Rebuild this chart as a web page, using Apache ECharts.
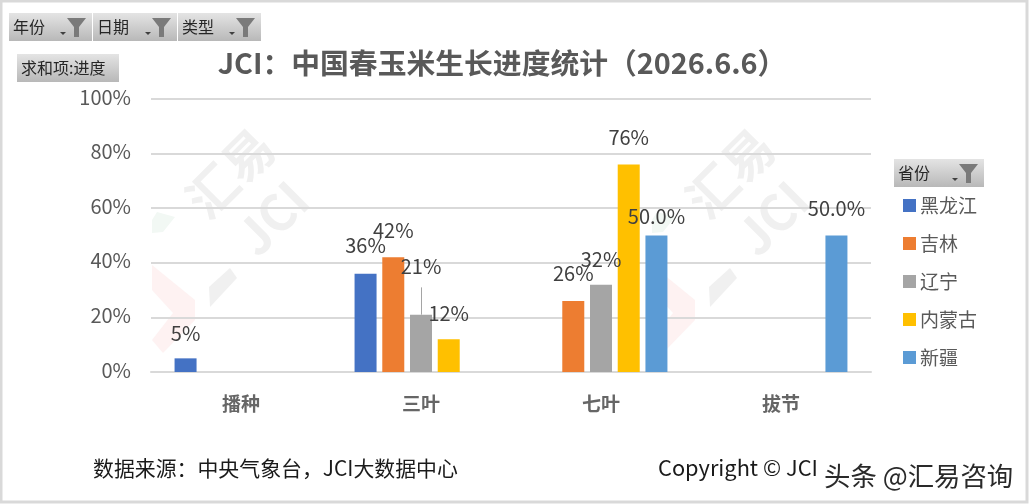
<!DOCTYPE html>
<html>
<head>
<meta charset="utf-8">
<style>
  html, body { margin: 0; padding: 0; background: #fff; }
  #chart { width: 1029px; height: 504px; }
</style>
<script src="https://cdn.jsdelivr.net/npm/echarts@6/dist/echarts.min.js"></script>
</head>
<body>
<div id="chart"></div>
<script>
// Spring maize growth progress by stage and province
const categories = ['播种', '三叶', '七叶', '拔节'];
const heilongjiang = [5, 36, null, null];
const jilin = [null, 42, 26, null];
const liaoning = [null, 21, 32, null];
const neimenggu = [null, 12, 76, null];
const xinjiang = [null, null, 50, 50];
const yTicks = [0, 20, 40, 60, 80, 100];

const FONT = '"Noto Sans CJK SC", "Noto Sans", sans-serif';

// Extra lift (px above the bar top) keeps the crowded labels apart
const labelLift = {
  '黑龙江': [10, 13, 0, 0],
  '吉林': [0, 12, 13, 0],
  '辽宁': [0, 33, 10, 0],
  '内蒙古': [0, 11, 12, 0],
  '新疆': [0, 0, 4, 12]
};

function barSeries(name, values, color, digits) {
  const lifts = labelLift[name];
  return {
    name, type: 'bar', barWidth: 22, barGap: '26%',
    itemStyle: { color },
    data: values.map((v, i) => ({
      value: v,
      label: {
        show: v !== null, position: 'top',
        offset: [0, -lifts[i]],
        formatter: () => v.toFixed(digits) + '%',
        fontSize: 20, color: '#404040', fontFamily: FONT
      }
    }))
  };
}

const series = [
  barSeries('黑龙江', heilongjiang, '#4472C4', 0),
  barSeries('吉林', jilin, '#ED7D31', 0),
  barSeries('辽宁', liaoning, '#A5A5A5', 0),
  barSeries('内蒙古', neimenggu, '#FFC000', 0),
  barSeries('新疆', xinjiang, '#5B9BD5', 1)
];

// Leader line tying the 21% label to its bar
series[2].markLine = {
  silent: true, symbol: 'none', label: { show: false },
  lineStyle: { color: '#A5A5A5', width: 1, type: 'solid' },
  data: [[{ coord: ['三叶', liaoning[1]] }, { coord: ['三叶', 31] }]]
};

// Pivot-style field button with dropdown arrow and funnel
function fieldButton(x, y, w, label, withFilter) {
  const h = 28;
  const shapes = [
    { type: 'rect', z: 20, shape: { x, y, width: w, height: h },
      style: { fill: new echarts.graphic.LinearGradient(0, 0, 0, 1, [
        { offset: 0, color: '#e4e4e4' }, { offset: 1, color: '#b8b8b8' }]) } },
    { type: 'text', z: 21, style: { x: x + 4, y: y + 14, text: label, fontSize: 16,
      fontFamily: FONT, fill: '#262626', verticalAlign: 'middle' } }
  ];
  if (withFilter) {
    const fx = x + w - 26, fy = y + 5;
    shapes.push(
      { type: 'polygon', z: 21, shape: { points: [[fx - 6, fy + 14], [fx, fy + 14], [fx - 3, fy + 17]] },
        style: { fill: '#404040' } },
      { type: 'polygon', z: 21, shape: { points: [[fx + 1, fy], [fx + 20, fy], [fx + 13, fy + 9], [fx + 13, fy + 19], [fx + 8, fy + 19], [fx + 8, fy + 9]] },
        style: { fill: '#7a7a7a' } }
    );
  }
  return shapes;
}

// Faint brand stamp behind the plot
function stamp(dx) {
  const wm = { fontFamily: FONT, fontWeight: 'bold', fill: '#f0f0f0', align: 'center', verticalAlign: 'middle' };
  const rot = Math.PI / 4;
  const poly = (points, fill) => ({ type: 'polygon', z: -5,
    shape: { points: points.map(p => [p[0] + dx, p[1]]) }, style: { fill } });
  return [
    { type: 'text', z: -5, x: 230 + dx, y: 173, rotation: rot, style: Object.assign({ text: '汇易', fontSize: 50 }, wm) },
    { type: 'text', z: -5, x: 272 + dx, y: 218, rotation: rot, style: Object.assign({ text: 'JCI', fontSize: 50, fontWeight: 'normal' }, wm) },
    poly([[230, 268], [237, 278], [210, 307], [209, 287]], '#f0f0f0'),
    poly([[152, 265], [195, 300], [195, 320], [163, 353], [152, 340], [173, 313], [152, 290]], '#fef2f2'),
    poly([[152, 220], [157, 212], [175, 217], [163, 232], [152, 233]], '#f2f8f4')
  ];
}

const graphicElements = [
  { type: 'rect', z: 30, silent: true, shape: { x: 1, y: 1, width: 1026, height: 501 },
    style: { fill: 'none', stroke: '#d9d9d9', lineWidth: 3 } },
  ...stamp(0), ...stamp(500),
  ...fieldButton(9, 13, 83, '年份', true),
  ...fieldButton(93, 13, 84, '日期', true),
  ...fieldButton(178, 13, 83, '类型', true),
  ...fieldButton(17, 54, 102, '求和项:进度', false),
  ...fieldButton(894, 159, 90, '省份', true),
  { type: 'text', z: 21, style: { x: 93, y: 468, text: '数据来源：中央气象台，JCI大数据中心',
    fontSize: 20.9, fontFamily: FONT, fill: '#1a1a1a', verticalAlign: 'middle' } },
  { type: 'text', z: 21, style: { x: 658, y: 468, text: 'Copyright © JCI',
    fontSize: 21.8, fontFamily: FONT, fill: '#1a1a1a', verticalAlign: 'middle' } },
  { type: 'text', z: 22, style: { x: 824, y: 476, text: '头条 @汇易咨询',
    fontSize: 26.4, fontFamily: FONT, fill: '#2a2a2a', stroke: '#ffffff', lineWidth: 1,
    verticalAlign: 'middle' } }
];

const chart = echarts.init(document.getElementById('chart'), null, { renderer: 'canvas' });
chart.setOption({
  animation: false,
  backgroundColor: '#fff',
  title: {
    text: 'JCI：中国春玉米生长进度统计（2026.6.6）',
    left: 497, top: 44, textAlign: 'center',
    textStyle: { fontSize: 28.8, fontWeight: 'bold', color: '#595959', fontFamily: FONT }
  },
  legend: {
    orient: 'vertical', left: 898, top: 191, itemWidth: 13, itemHeight: 13, itemGap: 19,
    icon: 'rect', selectedMode: false,
    textStyle: { fontSize: 19, color: '#595959', fontFamily: FONT, padding: [0, 0, 0, -1] },
    data: series.map(s => s.name)
  },
  grid: { left: 151, right: 158, top: 99, bottom: 132 },
  xAxis: {
    type: 'category', data: categories,
    axisTick: { show: false },
    axisLine: { lineStyle: { color: '#d9d9d9', width: 2 } },
    axisLabel: { fontSize: 19, fontWeight: 'bold', color: '#666666', fontFamily: FONT, margin: 22 }
  },
  yAxis: {
    type: 'value', min: yTicks[0], max: yTicks[yTicks.length - 1], interval: yTicks[1] - yTicks[0],
    axisLine: { show: false }, axisTick: { show: false },
    splitLine: { lineStyle: { color: '#d9d9d9', width: 2 } },
    axisLabel: { formatter: '{value}%', fontSize: 20, color: '#595959', fontFamily: FONT, margin: 20,
      verticalAlign: 'bottom', lineHeight: 4 }
  },
  graphic: { elements: graphicElements },
  series
});
</script>
</body>
</html>
